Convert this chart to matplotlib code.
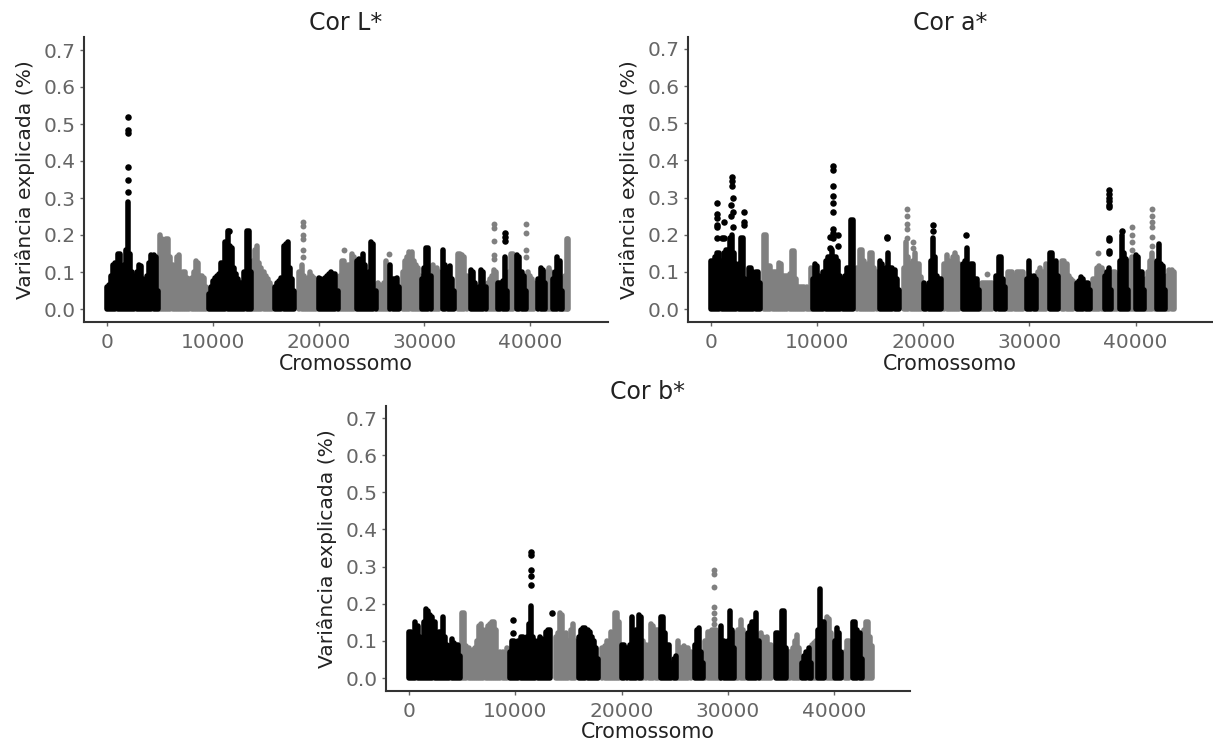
import matplotlib
matplotlib.use('Agg')
import matplotlib.pyplot as plt

# stems: (position, top of the dense column)
black_L = [(0,.06),(200,.065),(400,.09),(600,.12),(800,.125),(1000,.15),(1200,.15),(1400,.11),(1600,.12),(1800,.16),(2000,.29),(2200,.15),(2400,.10),(2600,.09),(2800,.10),(3000,.12),(3200,.115),(3400,.08),(3600,.075),(3800,.09),(4000,.125),(4200,.145),(4400,.145),(4600,.14),(4800,.05),
           (9600,.04),(9800,.06),(10000,.075),(10200,.085),(10400,.09),(10600,.095),(10800,.125),(11000,.125),(11200,.18),(11400,.21),(11600,.17),(11800,.165),(12000,.11),(12200,.095),(12400,.08),(12600,.07),(12800,.07),(13000,.1),(13200,.21),(13400,.21),(13600,.1),
           (15900,.06),(16100,.07),(16300,.075),(16500,.085),(16700,.17),(16900,.175),(17100,.18),(17300,.11),(17500,.08),(17700,.05),
           (20000,.085),(20200,.08),(20400,.07),(20600,.085),(20800,.09),(21000,.095),(21200,.1),(21400,.095),(21600,.095),(21800,.05),
           (23600,.13),(23800,.135),(24000,.13),(24200,.15),(24400,.12),(24600,.06),(24800,.1),(25000,.18),(25200,.175),(25400,.05),
           (26800,.12),(27000,.08),(27200,.08),(27400,.085),(27600,.06),
           (29800,.08),(30000,.11),(30200,.165),(30400,.165),(30600,.09),
           (31800,.16),(32000,.12),(32200,.11),(32400,.115),(32600,.08),(32800,.05),
           (34400,.105),(34600,.1),(34800,.07),(35000,.05),(35200,.06),(35400,.105),(35600,.1),(35800,.06),
           (37000,.07),(37200,.07),(37400,.075),(37600,.14),(37800,.05),
           (38800,.145),(39000,.14),(39200,.1),(39400,.09),(39600,.05),
           (40800,.08),(41000,.11),(41200,.105),(41400,.07),
           (42200,.08),(42400,.1),(42600,.14),(42800,.13),(43000,.05)]
grey_L = [(5000,.2),(5200,.19),(5400,.15),(5600,.19),(5800,.19),(6000,.14),(6200,.12),(6400,.10),(6600,.14),(6800,.145),(7000,.09),(7200,.1),(7400,.1),(7600,.085),(7800,.08),(8000,.085),(8200,.1),(8400,.13),(8600,.125),(8800,.09),(9000,.09),(9200,.085),(9400,.06),
          (13800,.13),(14000,.16),(14200,.17),(14400,.125),(14600,.11),(14800,.1),(15000,.09),(15200,.08),(15400,.07),(15600,.06),
          (18200,.1),(18400,.12),(18600,.09),(18800,.08),(19000,.085),(19200,.1),(19400,.09),(19600,.085),(19800,.07),
          (22000,.09),(22200,.13),(22400,.13),(22600,.1),(22800,.12),(23000,.12),(23200,.15),(23400,.14),
          (25600,.07),(25800,.065),(26000,.06),(26200,.07),(26400,.13),(26600,.12),
          (28000,.1),(28200,.13),(28400,.14),(28600,.155),(28800,.155),(29000,.13),(29200,.12),(29400,.11),(29600,.09),
          (30800,.12),(31000,.1),(31200,.11),(31400,.1),
          (33200,.15),(33400,.15),(33600,.145),(33800,.14),(34000,.09),
          (36000,.07),(36200,.08),(36400,.09),(36600,.105),(36800,.1),
          (38000,.1),(38200,.15),(38400,.15),
          (39800,.1),(40000,.09),(40200,.08),(40400,.07),
          (41600,.1),(41800,.11),(42000,.1),
          (43100,.08),(43300,.09),(43500,.19),(43600,.19)]
# single points above the columns
dots_black_L = [(2000,.52),(2000,.485),(2000,.475),(2000,.385),(2000,.35),(2000,.315),(11500,.21),(37600,.205),(37600,.195),(37600,.185)]
dots_grey_L = [(18500,.235),(18500,.225),(18500,.2),(18500,.19),(18500,.16),(18500,.14),(22400,.16),(26700,.15),(36600,.23),(36600,.22),(36600,.185),(36600,.145),(36600,.135),(39600,.23),(39600,.205),(39600,.16),(39600,.14)]

black_a = [(0,.13),(200,.13),(400,.14),(600,.15),(800,.15),(1000,.13),(1200,.15),(1400,.16),(1600,.16),(1800,.19),(2000,.2),(2200,.15),(2400,.12),(2600,.12),(2800,.19),(3000,.19),(3200,.08),(3400,.07),(3600,.11),(3800,.11),(4000,.1),(4200,.1),(4400,.1),(4600,.07),
           (9600,.08),(9800,.12),(10000,.115),(10200,.09),(10400,.05),(10600,.1),(10800,.13),(11000,.14),(11200,.14),(11400,.16),(11600,.14),(11800,.14),(12000,.13),(12200,.09),(12400,.08),(12600,.09),(12800,.11),(13000,.11),(13200,.24),(13400,.24),
           (15900,.13),(16100,.12),(16300,.085),(16500,.11),(16700,.15),(16900,.11),(17100,.11),(17300,.105),(17500,.08),(17700,.05),
           (20100,.07),(20300,.06),(20500,.07),(20700,.13),(20900,.19),(21100,.14),(21300,.09),(21500,.08),(21700,.08),
           (23700,.12),(23900,.13),(24100,.165),(24300,.08),(24500,.12),(24700,.12),(24900,.08),(25100,.08),(25300,.05),
           (26900,.09),(27100,.14),(27300,.14),(27500,.08),(27700,.06),
           (29800,.08),(30000,.13),(30200,.09),(30400,.09),(30600,.08),
           (31900,.15),(32100,.15),(32300,.12),(32500,.13),(32700,.09),
           (34500,.07),(34700,.075),(34900,.085),(35100,.08),(35300,.07),(35500,.07),(35700,.05),
           (37100,.09),(37300,.1),(37500,.11),(37700,.05),
           (38500,.13),(38700,.2),(38900,.15),(39100,.135),(39300,.05),
           (40000,.145),(40200,.14),(40400,.1),(40600,.1),(40800,.05),
           (42000,.13),(42200,.175),(42400,.12),(42600,.115),(42800,.05)]
grey_a = [(5000,.2),(5200,.2),(5400,.115),(5600,.115),(5800,.1),(6000,.1),(6200,.1),(6400,.125),(6600,.12),(6800,.09),(7000,.09),(7200,.09),(7400,.095),(7600,.155),(7800,.155),(8000,.08),(8200,.06),(8400,.06),(8600,.06),(8800,.06),(9000,.06),(9200,.055),(9400,.11),
          (13800,.11),(14000,.16),(14200,.16),(14400,.13),(14600,.11),(14800,.12),(15000,.15),(15200,.15),(15400,.11),(15600,.1),
          (18200,.11),(18400,.18),(18600,.14),(18800,.12),(19000,.13),(19200,.15),(19400,.12),(19600,.12),(19800,.085),
          (22000,.12),(22200,.145),(22400,.13),(22600,.12),(22800,.14),(23000,.15),(23200,.14),(23400,.12),
          (25500,.07),(25700,.07),(25900,.07),(26100,.07),(26300,.07),(26500,.07),
          (28000,.1),(28200,.1),(28400,.1),(28600,.09),(28800,.1),(29000,.1),(29200,.1),(29400,.1),
          (30800,.1),(31000,.11),(31200,.1),(31400,.1),(31600,.12),
          (33100,.13),(33300,.13),(33500,.12),(33700,.09),(33900,.08),(34100,.075),
          (36000,.08),(36200,.08),(36400,.11),(36600,.115),(36800,.11),(37000,.1),
          (37900,.1),(38100,.1),(38300,.09),
          (39500,.13),(39700,.14),(39900,.12),
          (41000,.08),(41200,.1),(41400,.13),(41600,.15),(41800,.12),
          (43000,.09),(43200,.105),(43400,.105),(43600,.1)]
dots_black_a = [(600,.285),(600,.255),(600,.245),(600,.225),(600,.22),(600,.19),(1000,.19),(1200,.235),(1200,.19),(2000,.355),(2000,.345),(2000,.33),(1900,.28),(1900,.25),(2100,.3),(2100,.26),(2100,.22),(3100,.26),(3100,.235),(3100,.225),
                (11500,.385),(11500,.375),(11500,.33),(11500,.305),(11500,.285),(11500,.26),(11500,.215),(11500,.205),(11500,.19),(12000,.2),(12000,.17),(11200,.195),(11200,.165),
                (16600,.195),(16600,.19),(20900,.225),(20900,.21),(24000,.2),(37500,.32),(37500,.31),(37500,.3),(37500,.29),(37500,.28),(37500,.275),(37500,.19),(37500,.185),(37500,.155),(37500,.15),(38700,.21)]
dots_grey_a = [(18500,.27),(18500,.25),(18500,.23),(18500,.215),(18500,.19),(19000,.18),(19000,.165),(26000,.095),(36500,.15),(39700,.22),(39700,.2),(39700,.18),(39700,.16),(41600,.27),(41600,.25),(41600,.235),(41600,.22),(41600,.195),(41600,.17)]

black_b = [(0,.125),(200,.125),(400,.12),(600,.15),(800,.14),(1000,.11),(1200,.105),(1400,.15),(1600,.185),(1800,.18),(2000,.17),(2200,.165),(2400,.15),(2600,.12),(2800,.125),(3000,.125),(3200,.165),(3400,.11),(3600,.09),(3800,.085),(4000,.105),(4200,.095),(4400,.09),(4600,.09),(4800,.06),
           (9500,.07),(9700,.1),(9900,.1),(10100,.09),(10300,.1),(10500,.11),(10700,.11),(10900,.105),(11100,.11),(11300,.145),(11500,.195),(11700,.11),(11900,.1),(12100,.1),(12300,.11),(12500,.105),(12700,.1),(12900,.125),(13100,.13),(13300,.13),
           (16000,.11),(16200,.13),(16400,.135),(16600,.135),(16800,.13),(17000,.125),(17200,.11),(17400,.1),(17600,.08),(17800,.05),
           (20000,.09),(20200,.09),(20500,.08),(20800,.09),(21000,.165),(21200,.12),(21400,.13),(21600,.17),(21800,.165),
           (23700,.165),(23900,.165),(24100,.12),(24300,.09),(24500,.09),(24700,.04),(24900,.05),(25100,.06),
           (26900,.09),(27100,.13),(27300,.135),(27500,.07),(27700,.04),
           (29400,.14),(29600,.1),(29800,.09),(30000,.1),(30200,.18),(30400,.13),(30600,.08),
           (31900,.12),(32100,.14),(32300,.15),(32500,.15),(32700,.175),(32900,.1),
           (34500,.12),(34700,.12),(34900,.07),(35100,.18),(35300,.18),(35500,.08),
           (37000,.04),(37200,.06),(37400,.07),(37600,.08),(37800,.04),
           (38500,.13),(38700,.24),(38900,.15),(39100,.15),
           (40100,.1),(40300,.135),(40500,.12),(40700,.07),
           (41800,.15),(42000,.15),(42200,.13),(42400,.12),(42600,.05)]
grey_b = [(5000,.175),(5200,.175),(5400,.085),(5600,.08),(5800,.07),(6000,.075),(6200,.08),(6400,.1),(6600,.14),(6800,.145),(7000,.13),(7200,.13),(7400,.14),(7600,.145),(7800,.15),(8000,.15),(8200,.13),(8400,.06),(8600,.07),(8800,.07),(9000,.06),(9200,.08),
          (13800,.11),(14000,.12),(14200,.175),(14400,.17),(14600,.11),(14800,.12),(15000,.1),(15200,.13),(15400,.145),(15600,.1),
          (18200,.08),(18400,.085),(18600,.1),(18800,.09),(19000,.125),(19200,.11),(19400,.175),(19600,.175),(19800,.15),
          (22000,.1),(22300,.09),(22600,.09),(22800,.145),(23000,.14),(23200,.13),(23400,.13),
          (25300,.1),(25500,.08),(25700,.08),(25900,.085),(26100,.08),(26300,.08),(26500,.07),
          (27900,.1),(28100,.125),(28300,.125),(28500,.13),(28700,.13),(28900,.13),(29100,.12),(29300,.11),
          (30800,.12),(31000,.13),(31200,.155),(31400,.13),(31600,.1),
          (33100,.12),(33300,.11),(33500,.1),(33700,.11),(33900,.09),(34100,.09),
          (35700,.07),(35900,.07),(36100,.08),(36300,.1),(36500,.115),(36700,.08),
          (37900,.09),(38100,.095),(38300,.1),
          (39300,.165),(39500,.16),(39700,.12),(39900,.1),
          (41000,.07),(41200,.1),(41400,.1),
          (42800,.13),(43000,.15),(43200,.15),(43400,.11),(43600,.085)]
dots_black_b = [(9800,.155),(9800,.12),(11500,.34),(11500,.33),(11500,.29),(11500,.275),(11500,.25),(13500,.175)]
dots_grey_b = [(28700,.29),(28700,.28),(28700,.245),(28700,.19),(28700,.175),(28700,.16),(28700,.145)]

panels = [
    ('Cor L*', (84, 37, 608, 322), (107, 530), (309, 50), black_L, grey_L, dots_black_L, dots_grey_L),
    ('Cor a*', (688, 37, 1212, 322), (711, 1135.5), (309, 49), black_a, grey_a, dots_black_a, dots_grey_a),
    ('Cor b*', (386, 406, 910, 691), (409, 834), (678, 418), black_b, grey_b, dots_black_b, dots_grey_b),
]

W, H = 1213, 744
GREY = '#808080'
TICK = '#666666'

fig = plt.figure(figsize=(W / 100, H / 100), dpi=100)

for title, box, xpx, ypx, black, grey, dots_k, dots_g in panels:
    left, top, right, bottom = box
    ax = fig.add_axes([left / W, 1 - bottom / H, (right - left) / W, (bottom - top) / H])

    # work out limits so that ticks land on the same pixels as the original
    per_x = 40000 / (xpx[1] - xpx[0])
    per_y = 0.7 / (ypx[0] - ypx[1])
    ax.set_xlim((left - xpx[0]) * per_x, (right - xpx[0]) * per_x)
    ax.set_ylim((ypx[0] - bottom) * per_y, (ypx[0] - top) * per_y)

    ax.vlines([p[0] for p in grey], 0, [p[1] for p in grey], color=GREY, linewidth=4.0, capstyle='round', zorder=2)
    ax.vlines([p[0] for p in black], 0, [p[1] for p in black], color='black', linewidth=4.0, capstyle='round', zorder=3)
    ax.scatter([p[0] for p in dots_g], [p[1] for p in dots_g], s=18, color=GREY, linewidths=0, zorder=2)
    ax.scatter([p[0] for p in dots_k], [p[1] for p in dots_k], s=22, color='black', linewidths=0, zorder=4)

    ax.set_xticks([0, 10000, 20000, 30000, 40000])
    ax.set_yticks([0, .1, .2, .3, .4, .5, .6, .7])
    ax.tick_params(axis='both', colors=TICK, labelsize=14.5, length=3, width=1, pad=3)
    ax.tick_params(axis='x', pad=5)
    for side in ['top', 'right']:
        ax.spines[side].set_visible(False)
    for side in ['left', 'bottom']:
        ax.spines[side].set_color('#333333')
        ax.spines[side].set_linewidth(1.5)

    ax.set_title(title, fontsize=17, color='#222222', pad=5)
    ax.set_xlabel('Cromossomo', fontsize=14.8, color='#222222', labelpad=1)
    ax.set_ylabel('Variância explicada (%)', fontsize=14.6, color='#222222', labelpad=6)

fig.savefig('out.png', dpi=100)
